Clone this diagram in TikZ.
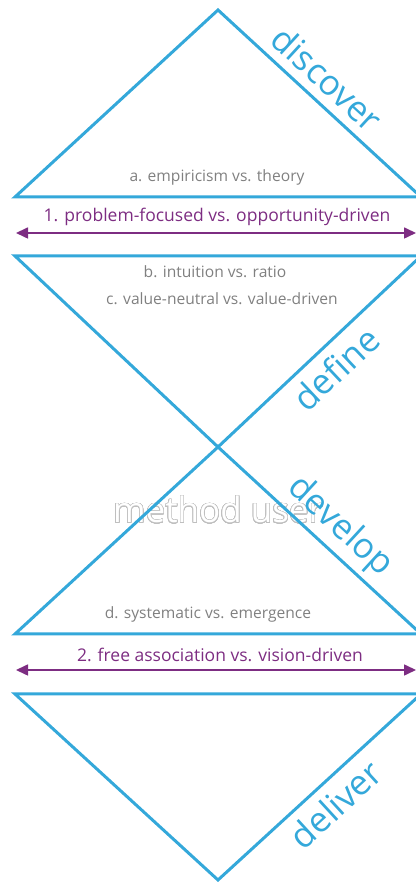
\documentclass[tikz,border=0pt]{standalone}
\usepackage{fontspec}
\setmainfont{Open Sans}
\usepackage{tikz}
\usetikzlibrary{arrows.meta}
\usepackage{xcolor}
\usepackage[copies]{contour}
\contourlength{0.6pt}
\contournumber{40}
\definecolor{dvblue}{RGB}{52,168,218}
\definecolor{dvpurple}{RGB}{125,45,130}
\definecolor{dvgray}{RGB}{128,128,128}

\begin{document}
\begin{tikzpicture}[x=1pt,y=1pt,line join=miter,
  tri/.style={draw=dvblue,line width=3pt},
  phase/.style={text=dvblue,font=\fontsize{35}{35}\selectfont,sloped,inner sep=0pt},
  pair/.style={text=dvgray,font=\fontsize{15.6}{18}\selectfont},
  axis/.style={dvpurple,line width=1.6pt,{Triangle[length=12pt,width=11pt]}-{Triangle[length=12pt,width=11pt]}},
  axislabel/.style={text=dvpurple,font=\fontsize{17.5}{20}\selectfont}]
\useasboundingbox (0,0) rectangle (415,882);
\node[font=\fontsize{35}{35}\selectfont] (user) at (218,372)
  {\contour{gray!50}{\color{white}method user}};
% corners
\coordinate (apexA) at (218,872);
\coordinate (blA) at (15,685);
\coordinate (brA) at (421,685);
\coordinate (tlB) at (15,626);
\coordinate (trB) at (421,626);
\coordinate (waist) at (218,435);
\coordinate (blC) at (15,248);
\coordinate (brC) at (421,248);
\coordinate (tlD) at (15,188);
\coordinate (trD) at (421,188);
\coordinate (apexD) at (218,2);
% diamonds
\draw[tri] (blA) -- (apexA) -- (brA) -- cycle;
\draw[tri] (tlB) -- (trB) -- (waist) -- cycle;
\draw[tri] (blC) -- (waist) -- (brC) -- cycle;
\draw[tri] (tlD) -- (trD) -- (apexD) -- cycle;
\path (apexA) -- (brA) node[phase,above=10pt,pos=0.46] (discover) {discover};
\path (waist) -- (trB) node[phase,below=10pt,pos=0.5] (define) {define};
\path (waist) -- (brC) node[phase,above=6pt,pos=0.52] (develop) {develop};
\path (apexD) -- (trD) node[phase,below=10pt,pos=0.5] (deliver) {deliver};
% dimensions
\node[pair] (empiricism) at (217,705) {a. empiricism vs. theory};
\node[pair] (intuition) at (215,610) {b. intuition vs. ratio};
\node[pair] (valueneutral) at (222,583) {c. value-neutral vs. value-driven};
\node[pair] (systematic) at (208,268) {d. systematic vs. emergence};
\coordinate (axisAl) at (16,649);
\coordinate (axisAr) at (416,649);
\coordinate (axisBl) at (16,212);
\coordinate (axisBr) at (416,212);
\draw[axis] (axisAl) -- (axisAr);
\draw[axis] (axisBl) -- (axisBr);
\node[axislabel] (problem) at (217,665) {1. problem-focused vs. opportunity-driven};
\node[axislabel] (freeassoc) at (220,227) {2. free association vs. vision-driven};
\end{tikzpicture}
\end{document}
